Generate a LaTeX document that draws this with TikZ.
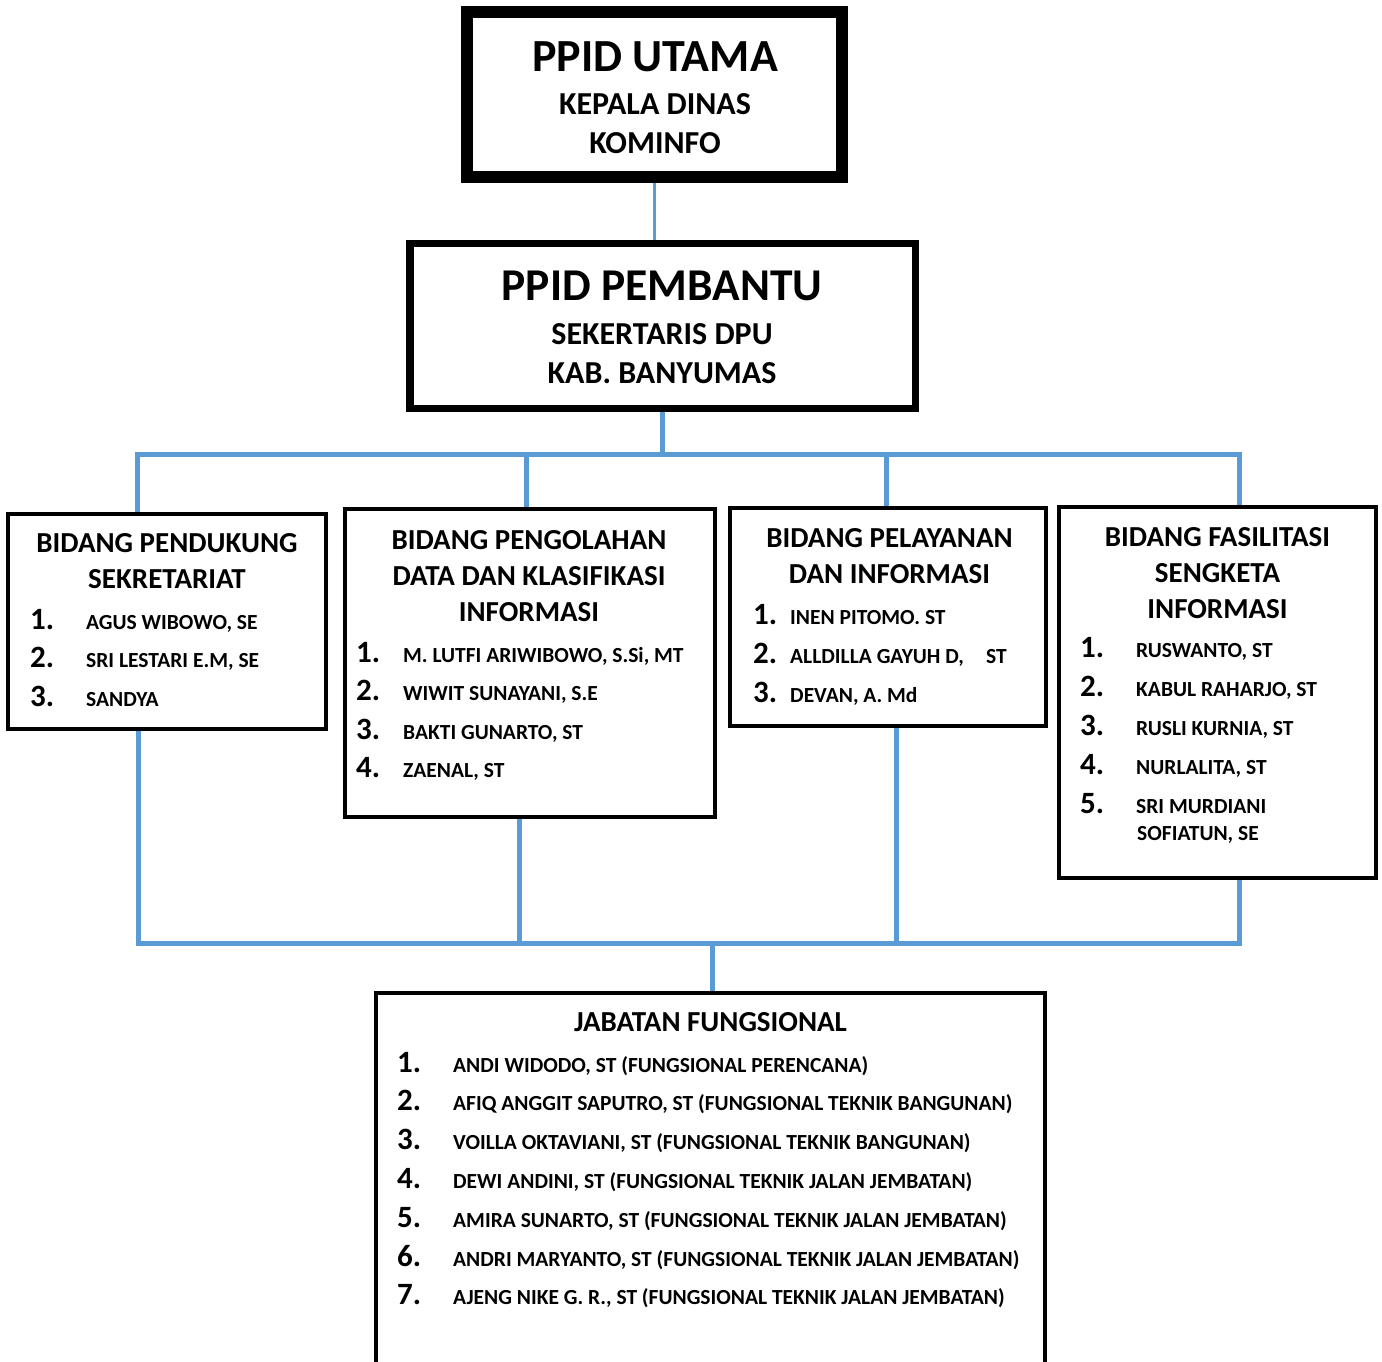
\documentclass[tikz,border=0pt]{standalone}
\usepackage{fontspec}
\setmainfont{Carlito}
\definecolor{lineblue}{RGB}{91,155,213}
% numbered entry: number in a fixed-width box, then the name
\newcommand{\itemno}[2][56pt]{\makebox[#1][l]{\fontsize{31}{31}\selectfont #2}}

\begin{document}
\begin{tikzpicture}[
        x=1pt, y=-1pt,
        font=\bfseries,
        frame/.style={draw, inner sep=0pt},
        headtext/.style={anchor=base, inner sep=0pt, font=\bfseries\fontsize{46}{46}\selectfont},
        subtext/.style={anchor=north, align=center, inner sep=0pt, font=\bfseries\fontsize{32}{39.5}\selectfont},
        title/.style={anchor=north, align=center, inner sep=0pt, font=\bfseries\fontsize{29}{36}\selectfont},
        entry/.style={anchor=base west, inner sep=0pt, font=\bfseries\fontsize{21.5}{21.5}\selectfont},
        link/.style={draw=lineblue, line width=5pt}
    ]
    \clip (0,0) rectangle (1382,1361);

    % --- PPID Utama (top) ---
    \node[frame, line width=12pt, minimum width=375pt, minimum height=165pt] (utama) at (654.5,94.5) {};
    \node[headtext] (utamaHead) at (655,71) {PPID UTAMA};
    \node[subtext] (utamaSub) at (655,93.1) {KEPALA DINAS\\KOMINFO};

    % --- PPID Pembantu ---
    \node[frame, line width=7.5pt, minimum width=505.5pt, minimum height=164.75pt] (pembantu) at (662.75,326) {};
    \node[headtext, font=\bfseries\fontsize{45.5}{45.5}\selectfont] (pembantuHead) at (662,300) {PPID PEMBANTU};
    \node[subtext] (pembantuSub) at (662,323.1) {SEKERTARIS DPU\\KAB. BANYUMAS};

    % --- Bidang Pendukung Sekretariat ---
    \node[frame, line width=4pt, minimum width=318pt, minimum height=215pt] (pendukung) at (167,621.2) {};
    \node[title] (pendukungTitle) at (167,533.7) {BIDANG PENDUKUNG\\SEKRETARIAT};
    \node[entry] (a1) at (30,629) {\itemno{1.}AGUS WIBOWO, SE};
    \node[entry] (a2) at (30,667.5) {\itemno{2.}SRI LESTARI E.M, SE};
    \node[entry] (a3) at (30,706) {\itemno{3.}SANDYA};

    % --- Bidang Pengolahan Data ---
    \node[frame, line width=4pt, minimum width=370pt, minimum height=308pt] (pengolahan) at (529.7,663.3) {};
    \node[title] (pengolahanTitle) at (529,530.7) {BIDANG PENGOLAHAN\\DATA DAN KLASIFIKASI\\INFORMASI};
    \node[entry] (b1) at (356,662) {\itemno[47pt]{1.}M. LUTFI ARIWIBOWO, S.Si, MT};
    \node[entry] (b2) at (356,700.5) {\itemno[47pt]{2.}WIWIT SUNAYANI, S.E};
    \node[entry] (b3) at (356,739) {\itemno[47pt]{3.}BAKTI GUNARTO, ST};
    \node[entry] (b4) at (356,777.5) {\itemno[47pt]{4.}ZAENAL, ST};

    % --- Bidang Pelayanan dan Informasi ---
    \node[frame, line width=4pt, minimum width=316pt, minimum height=218pt] (pelayanan) at (888.3,617) {};
    \node[title] (pelayananTitle) at (889.5,528.7) {BIDANG PELAYANAN\\DAN INFORMASI};
    \node[entry] (c1) at (753,624) {\itemno[37pt]{1.}INEN PITOMO. ST};
    \node[entry] (c2) at (753,663) {\itemno[37pt]{2.}ALLDILLA GAYUH D,\hspace{22pt}ST};
    \node[entry] (c3) at (753,702) {\itemno[37pt]{3.}DEVAN, A. Md};

    % --- Bidang Fasilitasi Sengketa ---
    \node[frame, line width=4pt, minimum width=317pt, minimum height=371pt] (fasilitasi) at (1217.5,692.5) {};
    \node[title] (fasilitasiTitle) at (1217.5,527.7) {BIDANG FASILITASI\\SENGKETA\\INFORMASI};
    \node[entry] (d1) at (1080,657) {\itemno{1.}RUSWANTO, ST};
    \node[entry] (d2) at (1080,696) {\itemno{2.}KABUL RAHARJO, ST};
    \node[entry] (d3) at (1080,735) {\itemno{3.}RUSLI KURNIA, ST};
    \node[entry] (d4) at (1080,774) {\itemno{4.}NURLALITA, ST};
    \node[entry] (d5) at (1080,813) {\itemno{5.}SRI MURDIANI};
    \node[entry] (d5b) at (1137,840) {SOFIATUN, SE};

    % --- Jabatan Fungsional (bottom) ---
    \node[frame, line width=4pt, minimum width=669pt, minimum height=420pt] (fungsional) at (710.5,1203) {};
    \node[title] (fungsionalTitle) at (710.5,1012.7) {JABATAN FUNGSIONAL};
    \node[entry] (e1) at (397,1072) {\itemno{1.}ANDI WIDODO, ST (FUNGSIONAL PERENCANA)};
    \node[entry] (e2) at (397,1110.8) {\itemno{2.}AFIQ ANGGIT SAPUTRO, ST (FUNGSIONAL TEKNIK BANGUNAN)};
    \node[entry] (e3) at (397,1149.6) {\itemno{3.}VOILLA OKTAVIANI, ST (FUNGSIONAL TEKNIK BANGUNAN)};
    \node[entry] (e4) at (397,1188.4) {\itemno{4.}DEWI ANDINI, ST (FUNGSIONAL TEKNIK JALAN JEMBATAN)};
    \node[entry] (e5) at (397,1227.2) {\itemno{5.}AMIRA SUNARTO, ST (FUNGSIONAL TEKNIK JALAN JEMBATAN)};
    \node[entry] (e6) at (397,1266) {\itemno{6.}ANDRI MARYANTO, ST (FUNGSIONAL TEKNIK JALAN JEMBATAN)};
    \node[entry] (e7) at (397,1304.8) {\itemno{7.}AJENG NIKE G. R., ST (FUNGSIONAL TEKNIK JALAN JEMBATAN)};

    % --- Connectors ---
    \coordinate (topL) at (137,454);
    \coordinate (topR) at (1239,454);
    \coordinate (topB) at (526,454);
    \coordinate (topC) at (886,454);
    \coordinate (botL) at (138,943);
    \coordinate (botR) at (1239,943);
    \coordinate (botB) at (519,943);
    \coordinate (botC) at (896,943);
    \coordinate (botE) at (712,943);

    \draw[link, line width=3pt] (utama.south) -- (utama.south |- pembantu.north);
    \draw[link] (pembantu.south) -- (pembantu.south |- topL);
    \draw[link] (pendukung.north -| topL) -- (topL) -- (topR) -- (fasilitasi.north -| topR);
    \draw[link] (topB) -- (topB |- pengolahan.north);
    \draw[link] (topC) -- (topC |- pelayanan.north);

    \draw[link] (pendukung.south -| botL) -- (botL) -- (botR) -- (fasilitasi.south -| botR);
    \draw[link] (pengolahan.south -| botB) -- (botB);
    \draw[link] (pelayanan.south -| botC) -- (botC);
    \draw[link] (botE) -- (botE |- fungsional.north);

\end{tikzpicture}
\end{document}
